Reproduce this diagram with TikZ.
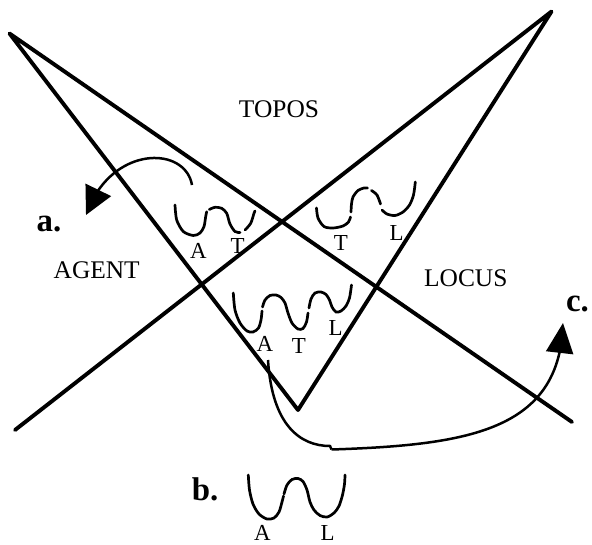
\documentclass[tikz,border=0pt]{standalone}
\usepackage{fontspec}
\setmainfont{Liberation Serif}
\usetikzlibrary{arrows.meta,bending}
\begin{document}
\begin{tikzpicture}[x=1bp,y=-1bp,
  frame/.style={line width=3.9bp, line cap=round, line join=round},
  bowl/.style={line width=2.7bp, line cap=round},
  arr/.style={line width=2.5bp},
  region/.style={font=\fontsize{25.5}{30}\selectfont, inner sep=0pt, anchor=base},
  pole/.style={font=\fontsize{23}{27}\selectfont, inner sep=0pt, anchor=base},
  tag/.style={font=\fontsize{33}{38}\selectfont\bfseries, inner sep=0pt, anchor=base}]
\useasboundingbox (0,0) rectangle (592,545);
% frame lines
\coordinate (TL) at (9.5,33.5);
\coordinate (TR) at (551.5,11.5);
\coordinate (V) at (298,410);
\coordinate (BL) at (15,430);
\coordinate (BR) at (572,422);
\draw[frame] (BL) -- (TR) -- (V) -- (TL) -- (BR);
% region labels
\node[region] (topos) at (279,117.3) {TOPOS};
\node[region] (agent) at (96.7,278.3) {AGENT};
\node[region] (locus) at (465.8,286.7) {LOCUS};
\node[tag] (la) at (49,231.7) {a.};
\node[tag] (lb) at (205,500) {b.};
\node[tag] (lc) at (577.5,311.7) {c.};
% pole labels
\node[pole] (a1) at (198.3,258.3) {A};
\node[pole] (t1) at (237.5,253.3) {T};
\node[pole] (t2) at (340.8,250) {T};
\node[pole] (l2) at (396.7,240) {L};
\node[pole] (a3) at (265,351.7) {A};
\node[pole] (t3) at (298.8,353.3) {T};
\node[pole] (l3) at (335.5,335) {L};
\node[pole] (a4) at (262.5,540) {A};
\node[pole] (l4) at (327.5,540) {L};
% group a bowls (A T)
\draw[bowl] plot[smooth] coordinates {(175,205) (176.7,220) (183.3,231.5) (193.3,235.5) (200,233) (204,226.5) (205.7,216.5) (206.7,211.7)};
\draw[bowl] plot[smooth] coordinates {(209.3,209.5) (215,207.3) (221.7,208.3) (226.7,213.3) (230,224) (235,231.5) (240,232.5)};
\draw[bowl] plot[smooth] coordinates {(245,230) (250.7,223.3) (254,213.3) (255,211)};
% group top-right bowls (T L)
\draw[bowl] plot[smooth] coordinates {(316.5,208) (318,218) (324,226.5) (333,228) (343,226) (348.5,222) (350.5,217)};
\draw[bowl] plot[smooth] coordinates {(351,212) (351.5,204) (353,197) (358,190.5) (364,188) (367.5,188)};
\draw[bowl] plot[smooth] coordinates {(371.5,190.5) (377,195) (380.5,204)};
\draw[bowl] plot[smooth] coordinates {(382,210) (387,214) (395,215.5) (403,212) (409.5,205) (413.5,195) (415.3,182)};
% middle bowls (A T L)
\draw[bowl] plot[smooth] coordinates {(233.3,293) (235,310) (240,323) (247,331) (253,332) (258.5,328) (261,320) (262,311)};
\draw[bowl] plot[smooth] coordinates {(262.5,307) (265,300) (270,295.5) (276,295) (281,297.5) (285,303) (288,313) (292,323) (298,329) (303,328.5) (306.5,322) (308,313)};
\draw[bowl] plot[smooth] coordinates {(309,308) (311,299) (315,293) (321,292) (326,294.5) (329.5,300) (332,307) (336,312) (341,311) (346,306) (349.5,298) (351.5,285)};
% b bowls (A L)
\draw[bowl] plot[smooth] coordinates {(248.3,475) (249.5,490) (253,504) (259,514) (267,519) (274,518) (279,512) (282,502) (283.5,496)};
\draw[bowl] plot[smooth] coordinates {(284,494) (287,485) (292,479.5) (298,478.5) (303,481.5) (307,490) (310,502) (314,510) (320,515.5) (327,517) (334,513) (339,506) (342.5,495) (344.5,484) (345,475)};
% arrow a
\coordinate (as) at (192,185);
\coordinate (ae) at (86,215);
\draw[arr, -{Triangle[length=28bp,width=28bp]}] (as) .. controls (185,145) and (110,145) .. (ae);
% arrow c
\coordinate (cs) at (268,360);
\coordinate (ck) at (330,446);
\coordinate (ck2) at (331.5,449.5);
\coordinate (ce) at (563,323);
\draw[arr] (cs) .. controls (272,425) and (300,446) .. (ck) -- (ck2);
\draw[arr, -{Triangle[length=30bp,width=27bp]}] (ck2) .. controls (470,445) and (560,430) .. (ce);
\end{tikzpicture}
\end{document}
